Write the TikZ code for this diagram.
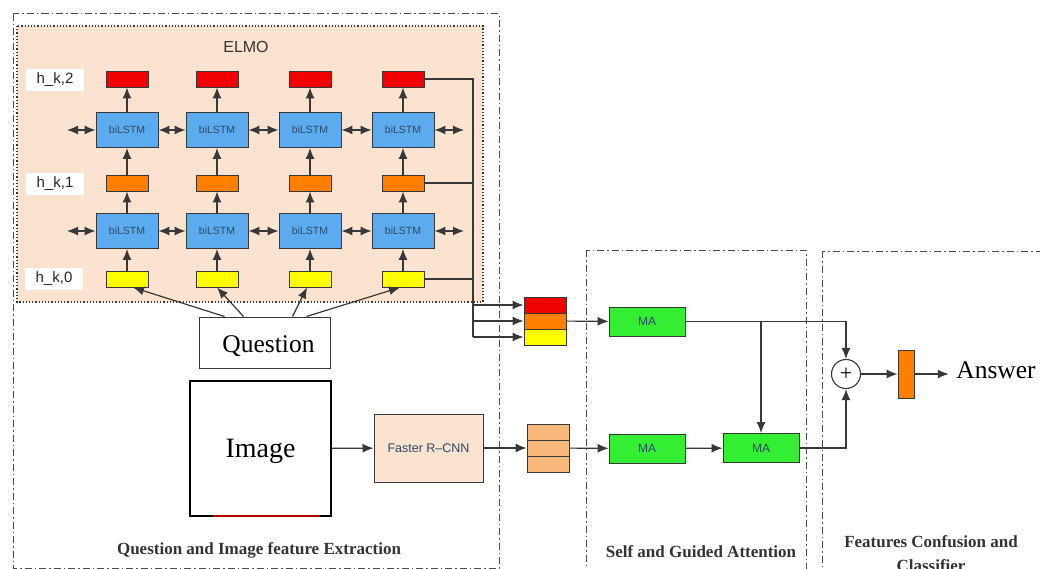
\documentclass[tikz,border=0pt]{standalone}
\usepackage{fontspec}
\setmainfont{Liberation Serif}
\setsansfont{Liberation Sans}
\usetikzlibrary{arrows.meta}

\definecolor{linec}{HTML}{383838}
\definecolor{peach}{HTML}{FBE3CF}
\definecolor{hred}{HTML}{F00000}
\definecolor{horg}{HTML}{FF8000}
\definecolor{hylw}{HTML}{FFFF00}
\definecolor{lstmblue}{HTML}{5CABEE}
\definecolor{lstmtext}{HTML}{2E4A66}
\definecolor{magreen}{HTML}{33EE33}
\definecolor{featorg}{HTML}{F9B87C}

\tikzset{
  cell/.style={draw=linec, line width=0.9pt, minimum width=42pt, minimum height=16pt, inner sep=0pt},
  lstm/.style={draw=linec, line width=0.9pt, fill=lstmblue, minimum width=62pt, minimum height=35pt, inner sep=0pt, text=lstmtext, font=\sffamily\fontsize{10.5}{12}\selectfont},
  mabox/.style={draw=linec, line width=0.9pt, fill=magreen, minimum width=76pt, minimum height=29pt, inner sep=0pt, text=lstmtext, font=\sffamily\fontsize{12}{14}\selectfont},
  hlabel/.style={fill=white, minimum width=58pt, minimum height=22pt, inner sep=0pt, text=black!85, font=\sffamily\fontsize{15}{17}\selectfont},
  partbox/.style={draw=linec!90, line width=1pt, dash pattern=on 7pt off 3pt on 1.5pt off 3pt},
  title/.style={text=black!80, font=\bfseries\fontsize{17}{24}\selectfont, align=center},
  bigtext/.style={inner sep=0pt, font=\fontsize{25.5}{28}\selectfont},
}

\begin{document}
\begin{tikzpicture}[x=1pt, y=-1pt, >={Latex[length=11pt,width=9pt]}, line width=1.2pt, draw=linec]
  \clip (0,0) rectangle (1040,569);
  \useasboundingbox (0,0) rectangle (1040,569);

  % stage frames
  \draw[partbox] (13,14) rectangle (499,568);
  \draw[partbox] (586,250) rectangle (806,590);
  \draw[partbox] (822,251) rectangle (1050,590);

  % ELMO block
  \draw[fill=peach, draw=linec, line width=1.2pt, dotted] (17,26) rectangle (483,302);
  \node[font=\sffamily\fontsize{16}{18}\selectfont, text=black!80] (elmo) at (246,47) {ELMO};
  \node[hlabel] (h2) at (55,80) {h\_k,2};
  \node[hlabel] (h1) at (55,184) {h\_k,1};
  \node[hlabel] (h0) at (54,279) {h\_k,0};

  \foreach \i/\x in {1/127,2/217,3/310,4/403}{
    \node[cell, fill=hred] (r\i) at (\x,79) {};
    \node[lstm] (b\i) at (\x,130) {biLSTM};
    \node[cell, fill=horg] (o\i) at (\x,183) {};
    \node[lstm] (a\i) at (\x,231) {biLSTM};
    \node[cell, fill=hylw] (y\i) at (\x,279) {};
    \draw[->] (y\i) -- (a\i);
    \draw[->] (a\i) -- (o\i);
    \draw[->] (o\i) -- (b\i);
    \draw[->] (b\i) -- (r\i);
  }
  \foreach \i/\j in {1/2,2/3,3/4}{
    \draw[<->] (a\i) -- (a\j);
    \draw[<->] (b\i) -- (b\j);
  }
  \coordinate (bl) at (67,130);
  \coordinate (al) at (67,231);
  \coordinate (br) at (464,130);
  \coordinate (ar) at (464,231);
  \draw[<->] (bl) -- (b1);
  \draw[<->] (al) -- (a1);
  \draw[<->] (b4) -- (br);
  \draw[<->] (a4) -- (ar);

  % question and image
  \node[draw, line width=1pt, minimum width=131pt, minimum height=51pt, inner sep=0pt] (q) at (264.5,342.5) {};
  \node[bigtext] (qtext) at ([xshift=4pt,yshift=-4pt]q.center) {Question};
  \draw[->] ([xshift=-40pt]q.north) -- ([xshift=6pt]y1.south);
  \draw[->] ([xshift=-21pt]q.north) -- (y2.south);
  \draw[->] ([xshift=28pt]q.north) -- ([xshift=-3pt]y3.south);
  \draw[->] ([xshift=42pt]q.north) -- ([xshift=-3pt]y4.south);

  \node[draw=black, line width=1.1pt, minimum width=141pt, minimum height=135pt, inner sep=0pt] (img) at (260.5,448.5) {};
  \node[inner sep=0pt, font=\fontsize{28}{30}\selectfont] (imgtext) at ([yshift=-3pt]img.center) {Image};
  \draw[draw=red!70!black, line width=1.2pt] (213,516) -- (320,516);

  \node[draw, line width=1pt, fill=peach, minimum width=109pt, minimum height=68pt, inner sep=0pt,
        text=lstmtext, font=\sffamily\fontsize{12.5}{14}\selectfont] (frcnn) at (428.5,448) {Faster R--CNN};
  \draw[->] (img) -- (frcnn);

  % concatenated question features
  \coordinate (bus) at (473,337);
  \node[cell, fill=hred] (qr) at (545,305) {};
  \node[cell, fill=horg] (qo) at (545,321) {};
  \node[cell, fill=hylw] (qy) at (545,337) {};
  \draw (r4) -- (r4 -| bus) -- (bus);
  \draw (o4) -- (o4 -| bus);
  \draw (y4) -- (y4 -| bus);
  \draw[->] (bus |- qr) -- (qr);
  \draw[->] (bus |- qo) -- (qo);
  \draw[->] (bus) -- (qy);

  % image region features
  \node[cell, fill=featorg] (f1) at (548,432) {};
  \node[cell, fill=featorg] (f2) at (548,448) {};
  \node[cell, fill=featorg] (f3) at (548,464) {};
  \draw[->] (frcnn) -- (f2);

  % attention
  \node[mabox] (ma1) at (647,321.5) {MA};
  \node[mabox] (ma2) at (647,448.5) {MA};
  \node[mabox] (ma3) at (761,448) {MA};
  \draw[->] (qo) -- (ma1);
  \draw[->] (f2) -- (ma2);
  \draw[->] (ma2) -- (ma3);
  \draw[->] (ma1 -| ma3) -- (ma3);

  % fusion and classifier
  \node[draw, circle, line width=1.1pt, minimum size=29pt, inner sep=0pt, font=\fontsize{22}{22}\selectfont] (sum) at (846,374) {+};
  \draw[->] (ma1) -| (sum);
  \draw[->] (ma3) -| (sum);
  \node[draw, line width=0.9pt, fill=horg, minimum width=16pt, minimum height=48pt, inner sep=0pt] (cls) at (906,374) {};
  \draw[->] (sum) -- (cls);
  \node[bigtext] (ans) at (996,370) {Answer};
  \draw[->] (cls) -- ([xshift=-7pt]cls -| ans.west);

  % stage titles
  \node[title] (t1) at (259,550) {Question and Image feature Extraction};
  \node[title] (t2) at (701,552) {Self and Guided Attention};
  \node[title, anchor=north] (t3) at (931,532) {Features Confusion and\\Classifier};
\end{tikzpicture}
\end{document}
